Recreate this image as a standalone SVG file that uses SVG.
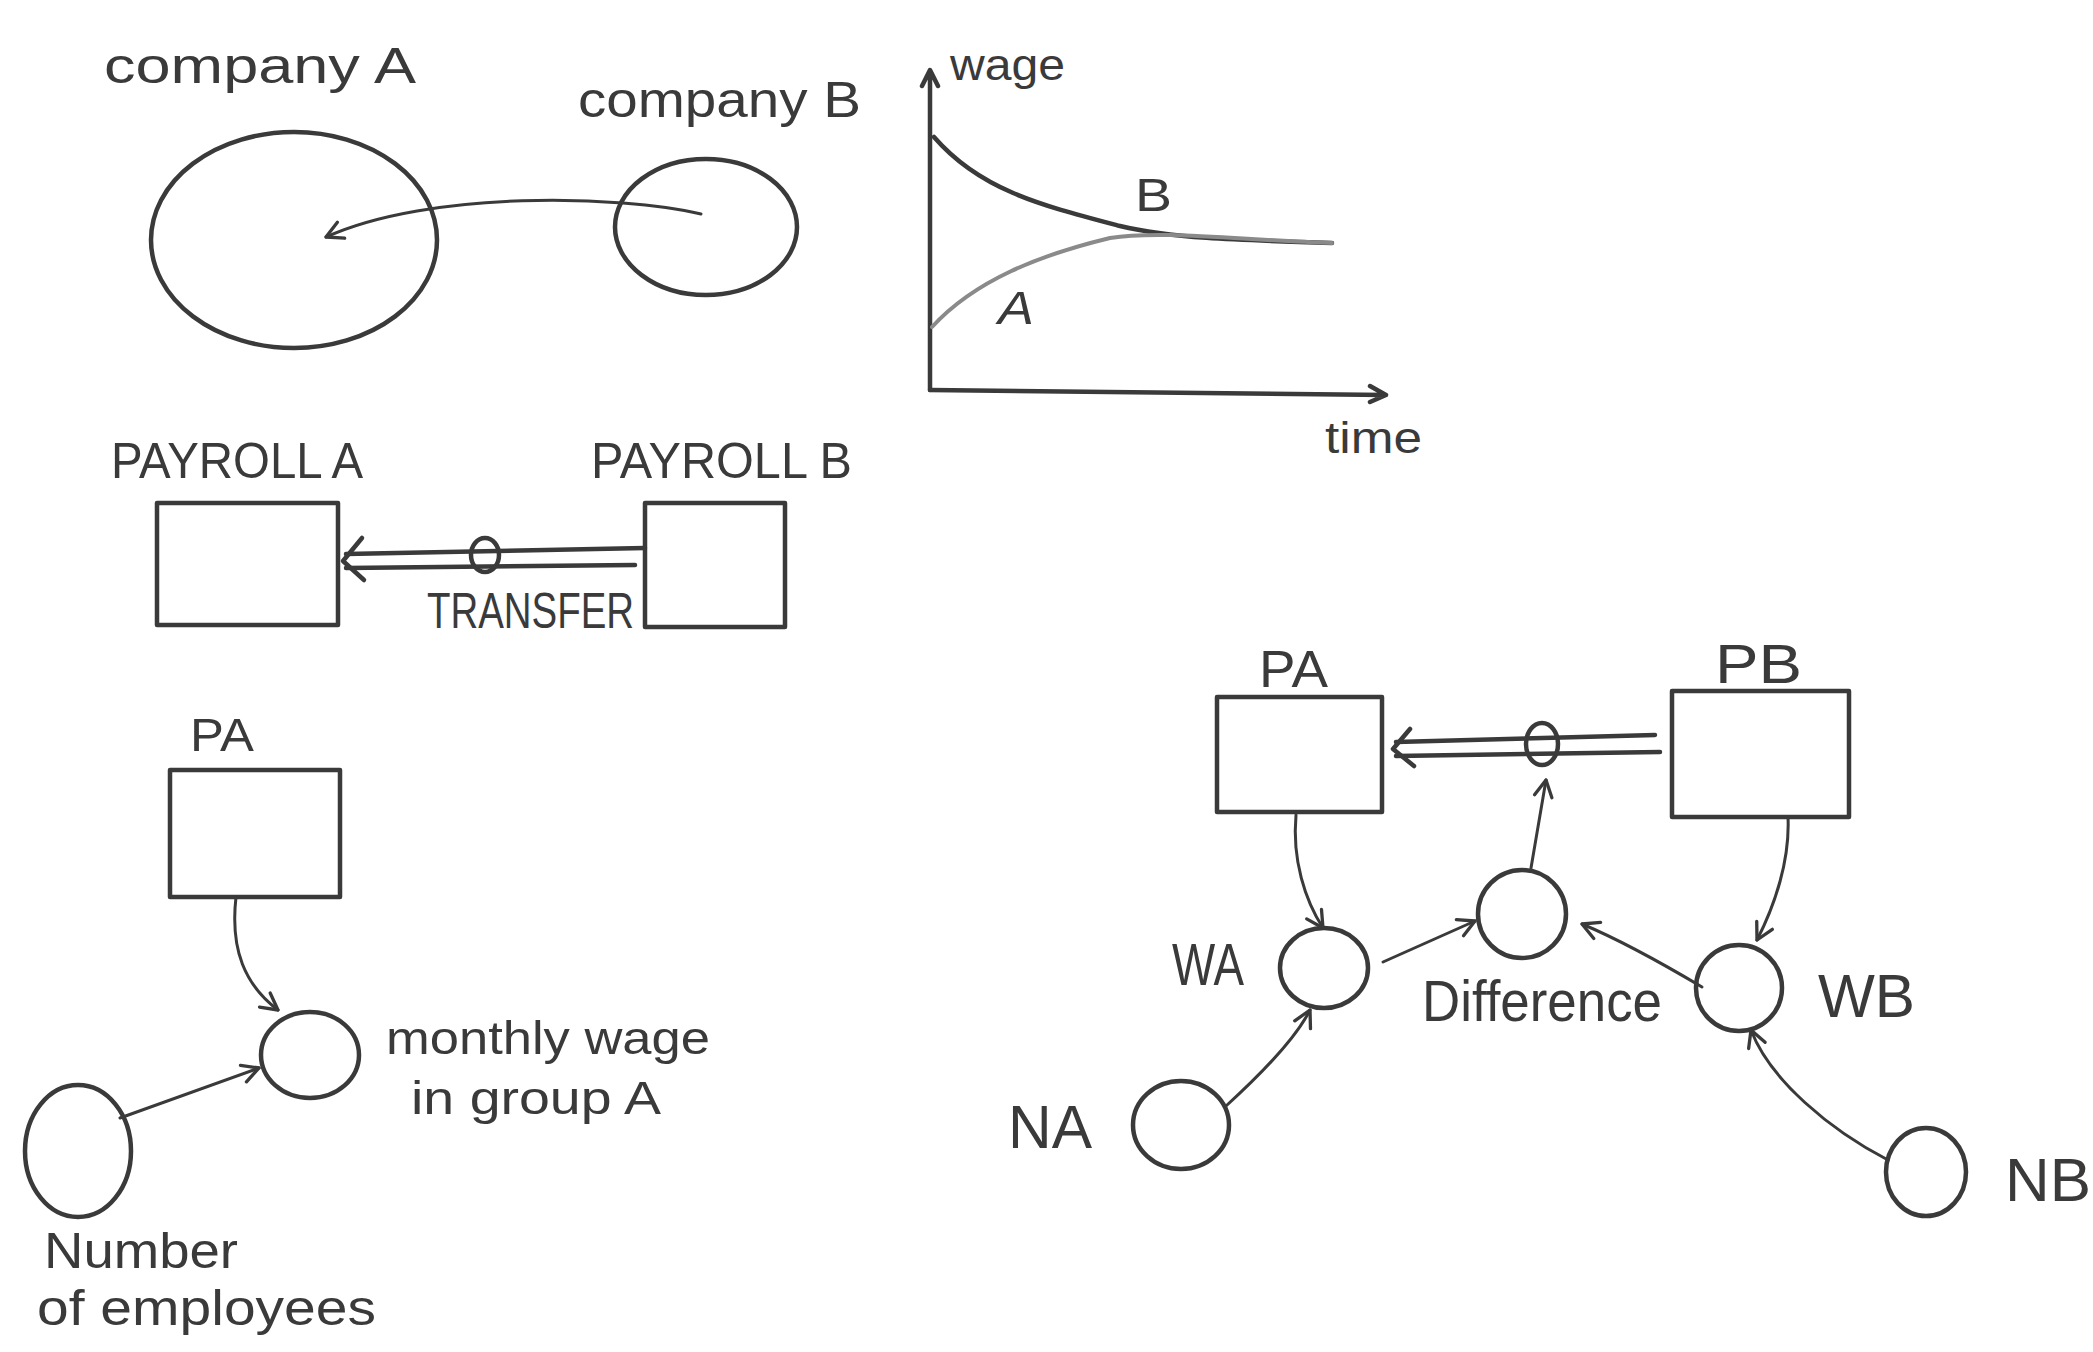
<svg xmlns="http://www.w3.org/2000/svg" width="2093" height="1352" viewBox="0 0 2093 1352">
<style>
.ln{fill:none;stroke:#3a3a3a;stroke-width:4.5;stroke-linecap:round;stroke-linejoin:round}
.th{fill:none;stroke:#3a3a3a;stroke-width:3;stroke-linecap:round}
.gr{fill:none;stroke:#8a8a8a;stroke-width:4;stroke-linecap:round}
.t{font-family:"Liberation Sans","DejaVu Sans",sans-serif;fill:#3a3a3a}
</style>
<defs>
<marker id="arr" viewBox="0 0 20 20" refX="18" refY="10" markerWidth="22" markerHeight="22" markerUnits="userSpaceOnUse" orient="auto">
<path d="M3,2 L18,10 L3,18" fill="none" stroke="#3a3a3a" stroke-width="3" stroke-linecap="round" stroke-linejoin="round"/>
</marker>
</defs>
<rect width="2093" height="1352" fill="#ffffff"/>

<!-- Top left: companies -->
<g id="companyA">
<ellipse class="ln" cx="294" cy="240" rx="143" ry="108"/>
<text class="t" x="104" y="83" font-size="50" textLength="312" lengthAdjust="spacingAndGlyphs">company A</text>
</g>
<g id="companyB">
<ellipse class="ln" cx="706" cy="227" rx="91" ry="68"/>
<text class="t" x="578" y="117" font-size="50" textLength="283" lengthAdjust="spacingAndGlyphs">company B</text>
</g>

<!-- Graph -->
<g id="graph">
<path class="ln" d="M930,390 L930,72 M922,86 L930,70 L938,86"/>
<path class="ln" d="M930,390 L1386,395 M1370,386 L1386,395 L1370,402"/>
<path class="ln" d="M934,137 C980,190 1040,205 1120,226 C1170,238 1230,240 1332,243"/>
<path class="gr" d="M932,327 C975,280 1040,255 1110,238 C1160,230 1240,240 1332,243"/>
<text class="t" x="950" y="80" font-size="44" textLength="115" lengthAdjust="spacingAndGlyphs">wage</text>
<text class="t" x="1325" y="453" font-size="44" textLength="97" lengthAdjust="spacingAndGlyphs">time</text>
<text class="t" x="1135" y="211" font-size="46" textLength="37" lengthAdjust="spacingAndGlyphs">B</text>
<text class="t" x="998" y="324" font-size="46" font-style="italic" textLength="36" lengthAdjust="spacingAndGlyphs">A</text>
</g>

<!-- Payroll -->
<g id="payrollA">
<rect class="ln" x="157" y="503" width="181" height="122"/>
<text class="t" x="111" y="478" font-size="50" textLength="252" lengthAdjust="spacingAndGlyphs">PAYROLL A</text>
</g>
<g id="payrollB">
<rect class="ln" x="645" y="503" width="140" height="124"/>
<text class="t" x="591" y="478" font-size="50" textLength="261" lengthAdjust="spacingAndGlyphs">PAYROLL B</text>
</g>
<g id="transfer">
<ellipse class="ln" cx="485" cy="555" rx="14" ry="17"/>
<text class="t" x="427" y="628" font-size="50" textLength="207" lengthAdjust="spacingAndGlyphs">TRANSFER</text>
</g>

<!-- PA / monthly wage -->
<g id="PA1">
<rect class="ln" x="170" y="770" width="170" height="127"/>
<text class="t" x="190" y="751" font-size="46" textLength="64" lengthAdjust="spacingAndGlyphs">PA</text>
</g>
<g id="monthlyWage">
<ellipse class="ln" cx="310" cy="1055" rx="49" ry="43"/>
<text class="t" x="386" y="1054" font-size="46" textLength="324" lengthAdjust="spacingAndGlyphs">monthly wage</text>
<text class="t" x="411" y="1114" font-size="46" textLength="250" lengthAdjust="spacingAndGlyphs">in group A</text>
</g>
<g id="numberEmployees">
<ellipse class="ln" cx="78" cy="1151" rx="53" ry="66"/>
<text class="t" x="44" y="1268" font-size="50" textLength="194" lengthAdjust="spacingAndGlyphs">Number</text>
<text class="t" x="37" y="1325" font-size="50" textLength="339" lengthAdjust="spacingAndGlyphs">of employees</text>
</g>

<!-- Right model -->
<g id="PA2">
<rect class="ln" x="1217" y="697" width="165" height="115"/>
<text class="t" x="1259" y="687" font-size="52" textLength="69" lengthAdjust="spacingAndGlyphs">PA</text>
</g>
<g id="PB">
<rect class="ln" x="1672" y="691" width="177" height="126"/>
<text class="t" x="1715" y="683" font-size="56" textLength="87" lengthAdjust="spacingAndGlyphs">PB</text>
</g>
<g id="valve2">
<ellipse class="ln" cx="1542" cy="744" rx="16" ry="21"/>
</g>
<g id="Difference">
<ellipse class="ln" cx="1522" cy="914" rx="44" ry="44"/>
<text class="t" x="1422" y="1021" font-size="58" textLength="240" lengthAdjust="spacingAndGlyphs">Difference</text>
</g>
<g id="WA">
<ellipse class="ln" cx="1324" cy="968" rx="44" ry="40"/>
<text class="t" x="1172" y="985" font-size="60" textLength="72" lengthAdjust="spacingAndGlyphs">WA</text>
</g>
<g id="WB">
<ellipse class="ln" cx="1739" cy="988" rx="43" ry="43"/>
<text class="t" x="1818" y="1017" font-size="62" textLength="97" lengthAdjust="spacingAndGlyphs">WB</text>
</g>
<g id="NA">
<ellipse class="ln" cx="1181" cy="1125" rx="48" ry="44"/>
<text class="t" x="1008" y="1148" font-size="62" textLength="84" lengthAdjust="spacingAndGlyphs">NA</text>
</g>
<g id="NB">
<ellipse class="ln" cx="1926" cy="1172" rx="40" ry="44"/>
<text class="t" x="2005" y="1201" font-size="62" textLength="86" lengthAdjust="spacingAndGlyphs">NB</text>
</g>

<g id="connectors">
<path class="th" d="M701,214 C620,195 430,190 326,237" marker-end="url(#arr)"/>
<!-- transfer flow -->
<path class="ln" d="M645,548 L346,554 M635,565 L346,568"/>
<path class="ln" d="M362,538 L343,561 L364,580"/>
<!-- PA1 -> monthly wage -->
<path class="th" d="M236,897 C230,950 245,985 278,1010" marker-end="url(#arr)"/>
<!-- number -> monthly wage -->
<path class="th" d="M120,1118 L259,1068" marker-end="url(#arr)"/>
<!-- right flow -->
<path class="ln" d="M1655,735 L1396,742 M1660,752 L1396,756"/>
<path class="ln" d="M1410,729 L1393,749 L1414,766"/>
<!-- Diff -> valve -->
<path class="th" d="M1531,868 L1546,780" marker-end="url(#arr)"/>
<!-- PA -> WA -->
<path class="th" d="M1296,815 C1292,860 1305,900 1323,928" marker-end="url(#arr)"/>
<!-- PB -> WB -->
<path class="th" d="M1788,817 C1790,860 1775,905 1757,940" marker-end="url(#arr)"/>
<!-- WA -> Diff -->
<path class="th" d="M1383,962 L1475,921" marker-end="url(#arr)"/>
<!-- WB -> Diff -->
<path class="th" d="M1702,987 C1665,965 1620,940 1582,924" marker-end="url(#arr)"/>
<!-- NA -> WA -->
<path class="th" d="M1226,1106 C1260,1075 1295,1040 1310,1010" marker-end="url(#arr)"/>
<!-- NB -> WB -->
<path class="th" d="M1888,1160 C1830,1130 1770,1080 1751,1030" marker-end="url(#arr)"/>
</g>
</svg>
